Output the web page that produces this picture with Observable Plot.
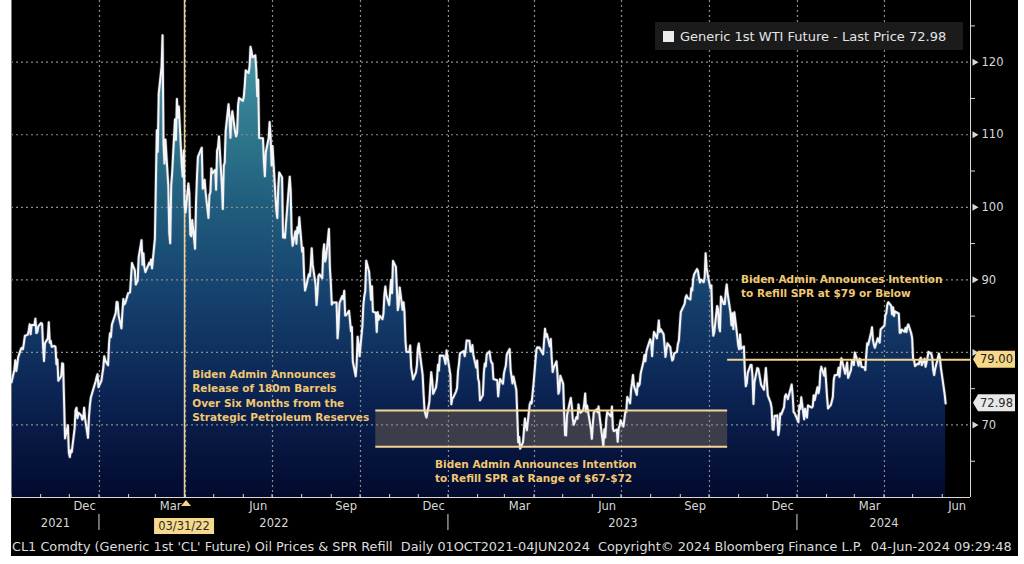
<!DOCTYPE html>
<html>
<head>
<meta charset="utf-8">
<script src="https://cdn.jsdelivr.net/npm/d3@7"></script>
<script src="https://cdn.jsdelivr.net/npm/@observablehq/plot@0.6"></script>
<style>
html, body { margin: 0; padding: 0; background: #fff; }
#wrap { position: absolute; left: 11px; top: 0; width: 1007px; height: 556px; background: #000; overflow: hidden; font-family: "DejaVu Sans", sans-serif; }
#legend { position: absolute; left: 644px; top: 22px; width: 308px; height: 28px; background: #1b1b1b; color: #e4e4e4; font-size: 13px; display: flex; align-items: center; box-sizing: border-box; padding-left: 8px; white-space: nowrap; }
#legend .sw { width: 11px; height: 11px; background: #ececec; margin-right: 6px; flex: none; }
#footer { position: absolute; left: 1px; top: 539px; color: #dcdcdc; white-space: pre; font-size: 11px; line-height: 16px; }
</style>
</head>
<body>
<div id="wrap">
  <div id="chart"></div>
  <div id="legend"><div class="sw"></div><span id="legendText"></span></div>
  <div id="footer"></div>
</div>
<script>
// ---------------- DATA ----------------
const d2021 = ["10-01","10-04","10-05","10-06","10-07","10-08","10-11","10-12","10-13","10-14","10-15","10-18","10-19","10-20","10-21","10-22","10-25","10-26","10-27","10-28","10-29",
"11-01","11-02","11-03","11-04","11-05","11-08","11-09","11-10","11-11","11-12","11-15","11-16","11-17","11-18","11-19","11-22","11-23","11-24","11-26","11-29","11-30",
"12-01","12-02","12-03","12-06","12-07","12-08","12-09","12-10","12-13","12-14","12-15","12-16","12-17","12-20","12-21","12-22","12-23","12-27","12-28","12-29","12-30","12-31"];
const p2021 = [75.88,77.62,78.93,77.43,78.30,79.35,80.52,80.64,80.44,81.31,82.28,82.44,82.96,83.87,82.50,83.76,83.76,84.65,82.66,82.81,83.57,
84.05,83.91,80.86,78.81,81.27,81.93,84.15,81.34,81.59,80.79,80.88,80.76,78.36,79.01,76.10,76.75,78.50,78.39,68.15,69.95,66.18,
65.57,66.50,66.26,69.49,72.05,72.36,70.94,71.67,71.29,70.73,70.87,72.38,70.86,68.23,71.12,72.76,73.79,75.57,75.98,76.56,76.99,75.21];

const d2022 = ["01-03","01-04","01-05","01-06","01-07","01-10","01-11","01-12","01-13","01-14","01-18","01-19","01-20","01-21","01-24","01-25","01-26","01-27","01-28","01-31",
"02-01","02-02","02-03","02-04","02-07","02-08","02-09","02-10","02-11","02-14","02-15","02-16","02-17","02-18","02-22","02-23","02-24","02-25","02-28",
"03-01","03-02","03-03","03-04","03-07","03-08","03-09","03-10","03-11","03-14","03-15","03-16","03-17","03-18","03-21","03-22","03-23","03-24","03-25","03-28","03-29","03-30","03-31",
"04-01","04-04","04-05","04-06","04-07","04-08","04-11","04-12","04-13","04-14","04-18","04-19","04-20","04-21","04-22","04-25","04-26","04-27","04-28","04-29",
"05-02","05-03","05-04","05-05","05-06","05-09","05-10","05-11","05-12","05-13","05-16","05-17","05-18","05-19","05-20","05-23","05-24","05-25","05-26","05-27","05-31",
"06-01","06-02","06-03","06-06","06-07","06-08","06-09","06-10","06-13","06-14","06-15","06-16","06-17","06-21","06-22","06-23","06-24","06-27","06-28","06-29","06-30",
"07-01","07-05","07-06","07-07","07-08","07-11","07-12","07-13","07-14","07-15","07-18","07-19","07-20","07-21","07-22","07-25","07-26","07-27","07-28","07-29",
"08-01","08-02","08-03","08-04","08-05","08-08","08-09","08-10","08-11","08-12","08-15","08-16","08-17","08-18","08-19","08-22","08-23","08-24","08-25","08-26","08-29","08-30","08-31",
"09-01","09-02","09-06","09-07","09-08","09-09","09-12","09-13","09-14","09-15","09-16","09-19","09-20","09-21","09-22","09-23","09-26","09-27","09-28","09-29","09-30",
"10-03","10-04","10-05","10-06","10-07","10-10","10-11","10-12","10-13","10-14","10-17","10-18","10-19","10-20","10-21","10-24","10-25","10-26","10-27","10-28","10-31",
"11-01","11-02","11-03","11-04","11-07","11-08","11-09","11-10","11-11","11-14","11-15","11-16","11-17","11-18","11-21","11-22","11-23","11-25","11-28","11-29","11-30",
"12-01","12-02","12-05","12-06","12-07","12-08","12-09","12-12","12-13","12-14","12-15","12-16","12-19","12-20","12-21","12-22","12-23","12-27","12-28","12-29","12-30"];
const p2022 = [76.08,76.99,77.85,79.46,78.90,78.23,81.22,82.64,82.12,83.82,85.43,86.96,86.90,85.14,83.31,85.60,87.35,86.61,86.82,88.15,
88.20,88.26,90.27,92.31,91.32,89.36,89.66,89.88,93.10,95.46,92.07,93.66,91.76,91.07,92.35,92.10,92.81,91.59,95.72,
103.41,110.60,107.67,115.68,119.40,123.70,108.70,106.02,109.33,103.01,96.44,95.04,102.98,104.70,112.12,109.27,114.93,112.34,113.90,105.96,104.24,107.82,100.28,
99.27,103.28,101.96,96.23,96.03,98.26,94.29,100.60,104.25,106.95,108.21,102.56,102.75,103.79,102.07,98.54,101.70,102.02,105.36,104.69,
105.17,102.41,107.81,108.26,109.77,103.09,99.76,105.71,106.13,110.49,114.20,112.40,109.59,112.21,113.23,110.29,109.77,110.33,114.09,115.07,114.67,
115.26,116.87,118.87,118.50,119.41,122.11,121.51,120.67,120.93,118.93,115.31,117.59,109.56,109.52,106.19,104.27,107.62,109.57,111.76,109.78,105.76,
108.43,99.50,98.53,102.73,104.79,104.09,95.84,96.30,95.78,97.59,102.60,104.22,102.26,96.35,94.70,96.70,94.98,97.26,96.42,98.62,
93.89,94.42,90.66,88.54,89.01,90.76,90.50,91.93,94.34,92.09,89.41,86.53,88.11,90.50,90.77,90.23,93.74,94.89,92.52,93.06,97.01,91.64,89.55,
86.61,86.87,86.88,81.94,83.54,86.79,87.78,87.31,88.48,85.10,85.11,85.73,84.45,82.94,83.49,78.74,76.71,78.50,82.15,81.23,79.49,
83.63,86.52,87.76,88.45,92.64,91.13,89.35,87.27,89.11,85.61,85.46,82.82,85.55,84.51,85.05,84.58,85.32,87.91,89.08,87.90,86.53,
88.37,90.00,88.17,92.61,91.79,88.91,85.83,86.47,88.96,85.87,86.92,85.59,81.64,80.08,80.04,80.95,77.94,76.28,77.24,78.20,80.55,
81.22,79.98,76.93,74.25,72.01,71.46,71.02,73.17,75.39,77.28,76.11,74.29,75.19,76.23,78.29,77.49,79.56,79.53,78.96,78.40,80.26];

const d2023 = ["01-03","01-04","01-05","01-06","01-09","01-10","01-11","01-12","01-13","01-17","01-18","01-19","01-20","01-23","01-24","01-25","01-26","01-27","01-30","01-31",
"02-01","02-02","02-03","02-06","02-07","02-08","02-09","02-10","02-13","02-14","02-15","02-16","02-17","02-21","02-22","02-23","02-24","02-27","02-28",
"03-01","03-02","03-03","03-06","03-07","03-08","03-09","03-10","03-13","03-14","03-15","03-16","03-17","03-20","03-21","03-22","03-23","03-24","03-27","03-28","03-29","03-30","03-31",
"04-03","04-04","04-05","04-06","04-10","04-11","04-12","04-13","04-14","04-17","04-18","04-19","04-20","04-21","04-24","04-25","04-26","04-27","04-28",
"05-01","05-02","05-03","05-04","05-05","05-08","05-09","05-10","05-11","05-12","05-15","05-16","05-17","05-18","05-19","05-22","05-23","05-24","05-25","05-26","05-30","05-31",
"06-01","06-02","06-05","06-06","06-07","06-08","06-09","06-12","06-13","06-14","06-15","06-16","06-20","06-21","06-22","06-23","06-26","06-27","06-28","06-29","06-30",
"07-03","07-05","07-06","07-07","07-10","07-11","07-12","07-13","07-14","07-17","07-18","07-19","07-20","07-21","07-24","07-25","07-26","07-27","07-28","07-31",
"08-01","08-02","08-03","08-04","08-07","08-08","08-09","08-10","08-11","08-14","08-15","08-16","08-17","08-18","08-21","08-22","08-23","08-24","08-25","08-28","08-29","08-30","08-31",
"09-01","09-05","09-06","09-07","09-08","09-11","09-12","09-13","09-14","09-15","09-18","09-19","09-20","09-21","09-22","09-25","09-26","09-27","09-28","09-29",
"10-02","10-03","10-04","10-05","10-06","10-09","10-10","10-11","10-12","10-13","10-16","10-17","10-18","10-19","10-20","10-23","10-24","10-25","10-26","10-27","10-30","10-31",
"11-01","11-02","11-03","11-06","11-07","11-08","11-09","11-10","11-13","11-14","11-15","11-16","11-17","11-20","11-21","11-22","11-24","11-27","11-28","11-29","11-30",
"12-01","12-04","12-05","12-06","12-07","12-08","12-11","12-12","12-13","12-14","12-15","12-18","12-19","12-20","12-21","12-22","12-26","12-27","12-28","12-29"];
const p2023 = [76.93,72.84,73.67,73.77,74.63,75.12,77.41,78.39,79.86,80.18,79.48,80.33,81.64,81.62,80.13,80.15,81.01,79.68,77.90,78.87,
76.41,75.88,73.39,74.11,77.14,78.47,78.06,79.72,80.14,79.06,78.59,78.49,76.34,76.16,73.95,75.39,76.32,75.68,77.05,
77.69,78.16,79.68,80.46,77.58,76.66,75.72,76.68,74.80,71.33,67.61,68.35,66.74,67.64,69.33,70.90,69.96,69.26,72.81,73.20,72.97,74.37,75.67,
80.42,80.71,80.61,80.70,79.74,81.53,83.26,82.16,82.52,80.83,81.86,79.16,77.29,77.87,78.76,77.07,74.30,74.76,76.78,
75.66,71.66,68.60,68.56,71.34,73.16,73.71,72.56,70.87,70.04,71.11,70.86,72.83,71.86,71.69,71.99,72.91,74.34,71.83,72.67,69.46,68.09,
70.10,71.74,72.15,71.74,72.53,71.29,70.17,67.12,69.42,68.27,70.62,71.78,71.19,72.53,69.51,69.16,69.37,67.70,69.56,69.86,70.64,
69.79,71.79,71.80,73.86,72.99,74.83,75.75,76.89,75.42,74.15,75.75,75.35,75.63,77.07,78.74,79.63,78.78,80.09,80.58,81.80,
81.37,79.49,81.55,82.82,81.94,82.92,84.40,82.82,83.19,82.51,80.99,79.38,80.39,81.25,80.72,79.64,78.89,79.05,79.83,80.10,81.16,81.63,83.63,
85.55,86.69,87.54,87.87,87.51,87.29,88.84,88.52,90.16,90.77,91.48,91.20,90.28,89.63,90.03,89.68,90.39,93.68,91.71,90.79,
88.82,89.23,84.22,82.31,82.79,86.38,85.97,83.49,82.91,87.69,86.66,86.66,88.32,89.37,88.08,85.49,83.74,85.39,83.21,85.54,82.31,81.02,
80.44,82.46,80.51,80.82,77.37,75.33,75.74,77.17,78.26,78.26,76.66,72.90,75.89,77.83,77.77,77.10,75.54,74.86,76.41,77.86,75.96,
74.07,73.04,72.32,69.38,69.34,71.23,71.32,68.61,69.47,71.58,71.43,72.47,73.94,74.22,73.89,73.56,75.57,74.11,71.77,71.65];

const d2024 = ["01-02","01-03","01-04","01-05","01-08","01-09","01-10","01-11","01-12","01-16","01-17","01-18","01-19","01-22","01-23","01-24","01-25","01-26","01-29","01-30","01-31",
"02-01","02-02","02-05","02-06","02-07","02-08","02-09","02-12","02-13","02-14","02-15","02-16","02-20","02-21","02-22","02-23","02-26","02-27","02-28","02-29",
"03-01","03-04","03-05","03-06","03-07","03-08","03-11","03-12","03-13","03-14","03-15","03-18","03-19","03-20","03-21","03-22","03-25","03-26","03-27","03-28",
"04-01","04-02","04-03","04-04","04-05","04-08","04-09","04-10","04-11","04-12","04-15","04-16","04-17","04-18","04-19","04-22","04-23","04-24","04-25","04-26","04-29","04-30",
"05-01","05-02","05-03","05-06","05-07","05-08","05-09","05-10","05-13","05-14","05-15","05-16","05-17","05-20","05-21","05-22","05-23","05-24","05-28","05-29","05-30","05-31",
"06-03","06-04"];
const p2024 = [70.38,72.70,72.19,73.81,70.77,72.24,71.37,71.02,72.68,72.40,72.56,74.08,73.41,75.19,74.37,75.09,77.36,78.01,76.78,77.82,75.85,
73.82,72.28,72.78,73.31,73.86,76.22,76.84,76.92,77.87,76.64,78.03,79.19,77.04,77.91,78.61,76.49,77.58,78.87,78.54,78.26,
79.97,78.74,78.15,79.13,78.93,78.01,77.93,77.56,79.72,81.26,81.04,82.72,83.47,81.68,81.07,80.63,81.95,81.62,81.35,83.17,
83.71,85.15,85.43,86.59,86.91,86.43,85.23,86.21,85.02,85.66,85.41,85.36,82.69,82.73,83.14,82.85,83.36,82.81,83.57,83.85,82.63,81.93,
79.00,78.95,78.11,78.48,78.38,78.99,79.26,78.26,79.12,78.02,78.63,79.23,80.06,79.80,79.26,77.57,76.87,77.72,79.83,79.23,77.91,76.99,
74.22,72.98];

const xDomain = ["2021-10-01", "2024-06-30"];
const yDomain = [60, 128.5];
const majorTicks = [70, 80, 90, 100, 110, 120];
const labelTicks = [70, 90, 100, 110, 120]; // 80 sits under the 79.00 tag
const minorTicks = [65, 75, 85, 95, 105, 115, 125];
const gridQuarters = ["2022-01-01","2022-04-01","2022-07-01","2022-10-01","2023-01-01","2023-04-01","2023-07-01","2023-10-01","2024-01-01","2024-04-01"];
const monthLabels = ["2021-12","2022-03","2022-06","2022-09","2022-12","2023-03","2023-06","2023-09","2023-12","2024-03","2024-06"];
const yearLabels = [2021, 2022, 2023, 2024];
const releaseDate = "2022-03-31";
const bandRange = ["2022-10-17", "2023-10-20"];
const bandLevels = [67, 72];
const refillCap = 79;
const annotations = [
  {date: "2022-04-08", value: 77.93, text: "Biden Admin Announces\nRelease of 180m Barrels\nOver Six Months from the\nStrategic Petroleum Reserves"},
  {date: "2022-12-18", value: 65.5, text: "Biden Admin Announces Intention\nto Refill SPR at Range of $67-$72"},
  {date: "2023-11-03", value: 91.0, text: "Biden Admin Announces Intention\nto Refill SPR at $79 or Below"}
];
const footerText = "CL1 Comdty (Generic 1st 'CL' Future) Oil Prices & SPR Refill  Daily 01OCT2021-04JUN2024  Copyright\u00A9 2024 Bloomberg Finance L.P.  04-Jun-2024 09:29:48";

// ---------------- BUILD ----------------
const parse = d3.utcParse("%Y-%m-%d");
const series = [];
[[2021, d2021, p2021], [2022, d2022, p2022], [2023, d2023, p2023], [2024, d2024, p2024]].forEach(([yr, ds, ps]) => {
  ds.forEach((d, i) => series.push({date: parse(`${yr}-${d}`), price: ps[i]}));
});
const last = series[series.length - 1];
const x0 = parse(xDomain[0]), x1 = parse(xDomain[1]);
const bandStart = parse(bandRange[0]), bandEnd = parse(bandRange[1]);
const bandData = series.filter(d => d.date >= bandStart && d.date <= bandEnd);
const monthMid = monthLabels.map(m => { const s = parse(m + "-01"); const e = d3.utcMonth.offset(s, 1); return new Date((+s + +e) / 2); });
const yearMid = yearLabels.map(y => {
  const s = new Date(Math.max(+parse(`${y}-01-01`), +x0));
  const e = new Date(Math.min(+parse(`${y + 1}-01-01`), +x1));
  return {year: y, date: new Date((+s + +e) / 2)};
});
const yearStarts = yearLabels.slice(1).map(y => parse(`${y}-01-01`));
const monthStarts = d3.utcMonth.range(x0, x1);

const GOLD = "#f4d591";
const GOLD_TEXT = "#f1c772";
const AXIS = "#d8d8d8";
const GRID = "#8c8c8c";

const gradientDefs = (index, scales) => {
  const defs = d3.create("svg:defs");
  const g = defs.append("linearGradient").attr("id", "oilGrad")
    .attr("gradientUnits", "userSpaceOnUse")
    .attr("x1", 0).attr("x2", 0)
    .attr("y1", scales.y(125)).attr("y2", scales.y(yDomain[0]));
  [[0, "#4fa3ae"], [0.18, "#337f92"], [0.38, "#205d7d"], [0.58, "#15406d"], [0.78, "#0b2453"], [1, "#030a2e"]]
    .forEach(([o, c]) => g.append("stop").attr("offset", o).attr("stop-color", c));
  return defs.node();
};

const bottomDecor = (index, scales, values, dims) => {
  const g = d3.create("svg:g");
  const by = dims.height - dims.marginBottom;
  for (const m of monthStarts) {
    const x = scales.x(m);
    g.append("line").attr("x1", x).attr("x2", x).attr("y1", by - 3).attr("y2", by).attr("stroke", AXIS);
  }
  for (const ys of yearStarts) {
    const x = scales.x(ys);
    g.append("line").attr("x1", x).attr("x2", x).attr("y1", by + 17).attr("y2", by + 33).attr("stroke", AXIS);
  }
  const rx = scales.x(parse(releaseDate));
  g.append("path").attr("d", `M${rx + 2},${by + 3} L${rx + 7},${by + 9} L${rx - 3},${by + 9} Z`).attr("fill", GOLD);
  const w = 60, h = 16, cy = by + 29;
  g.append("rect").attr("x", rx - w / 2).attr("y", cy - h / 2).attr("width", w).attr("height", h).attr("fill", "#f7d98c");
  g.append("text").attr("x", rx).attr("y", cy).attr("dy", "0.36em").attr("text-anchor", "middle")
    .attr("fill", "#2b2b2b").attr("font-size", 11.5).attr("font-family", "DejaVu Sans").text(d3.utcFormat("%m/%d/%y")(parse(releaseDate)));
  return g.node();
};

const priceTags = [
  {value: refillCap, label: refillCap.toFixed(2), fill: "#f7d889", color: "#1c1c1c"},
  {value: last.price, label: last.price.toFixed(2), fill: "#e8e8e8", color: "#2a2a2a"}
];
const tagMark = (index, scales, values, dims) => {
  const g = d3.create("svg:g");
  const ax = dims.width - dims.marginRight;
  for (const t of priceTags) {
    const y = scales.y(t.value), h = 17, l = ax + 8, r = ax + 45, tip = ax + 3;
    g.append("path").attr("d", `M${tip},${y} L${l},${y - h / 2} L${r},${y - h / 2} L${r},${y + h / 2} L${l},${y + h / 2} Z`).attr("fill", t.fill);
    g.append("text").attr("x", (l + r) / 2).attr("y", y).attr("dy", "0.36em").attr("text-anchor", "middle")
      .attr("fill", t.color).attr("font-size", 11.5).attr("font-family", "DejaVu Sans").text(t.label);
  }
  return g.node();
};

const chart = Plot.plot({
  width: 1007,
  height: 540,
  marginLeft: 0,
  marginRight: 48,
  marginTop: 0,
  marginBottom: 43,
  style: {background: "transparent", color: AXIS, fontFamily: "DejaVu Sans", fontSize: "11.5px", overflow: "visible"},
  x: {type: "utc", domain: [x0, x1], axis: null},
  y: {domain: yDomain},
  marks: [
    gradientDefs,
    Plot.areaY(series, {x: "date", y1: yDomain[0], y2: "price", fill: "url(#oilGrad)"}),
    Plot.areaY(bandData, {x: "date", y1: bandLevels[0], y2: d => Math.max(bandLevels[0], Math.min(bandLevels[1], d.price)), fill: "#3b3d4b"}),
    Plot.ruleY(majorTicks, {stroke: GRID, strokeWidth: 1.2, strokeDasharray: "2,3"}),
    Plot.ruleX(gridQuarters.map(parse), {stroke: GRID, strokeWidth: 1.2, strokeDasharray: "2,3"}),
    Plot.ruleX([x0], {stroke: "#777"}),
    Plot.ruleX([x1], {stroke: AXIS}),
    Plot.ruleY([yDomain[0]], {stroke: AXIS}),
    Plot.ruleX([parse(releaseDate)], {stroke: "#e9cf98", strokeWidth: 1.6}),
    Plot.lineY(series, {x: "date", y: "price", stroke: "#9aa3b8", strokeWidth: 3.4, strokeOpacity: 0.35}),
    Plot.lineY(series, {x: "date", y: "price", stroke: "#f5f5f8", strokeWidth: 2}),
    Plot.ruleY(bandLevels, {x1: bandStart, x2: bandEnd, stroke: GOLD, strokeWidth: 2}),
    Plot.ruleY([refillCap], {x1: bandEnd, x2: x1, stroke: GOLD, strokeWidth: 2}),
    Plot.text(annotations, {x: d => parse(d.date), y: "value", text: "text", textAnchor: "start", lineAnchor: "top", lineHeight: 1.38,
      fill: GOLD_TEXT, fontWeight: "bold", fontSize: 10.5, fontFamily: "DejaVu Sans"}),
    Plot.axisY({anchor: "right", ticks: minorTicks, tickSize: 4, tickFormat: () => "", stroke: AXIS}),
    Plot.axisY({anchor: "right", ticks: labelTicks, tickSize: 0, tickPadding: 11, fill: AXIS, fontSize: 11.5}),
    Plot.dot(majorTicks, {y: d => d, frameAnchor: "right", symbol: "triangle", rotate: 90, r: 2.6, fill: AXIS, dx: 4}),
    Plot.text(monthMid, {x: d => d, text: d => d3.utcFormat("%b")(d), frameAnchor: "bottom", dy: 12, fill: AXIS, fontSize: 11.5}),
    Plot.text(yearMid, {x: "date", text: d => String(d.year), frameAnchor: "bottom", dy: 29, fill: AXIS, fontSize: 11.5}),
    bottomDecor,
    tagMark
  ]
});
document.getElementById("chart").appendChild(chart);

document.getElementById("legendText").textContent = `Generic 1st WTI Future - Last Price ${last.price.toFixed(2)}`;
const footer = document.getElementById("footer");
footer.textContent = footerText;
const fw = footer.getBoundingClientRect().width;
footer.style.fontSize = (11 * 1000 / fw).toFixed(2) + "px";
</script>
</body>
</html>
